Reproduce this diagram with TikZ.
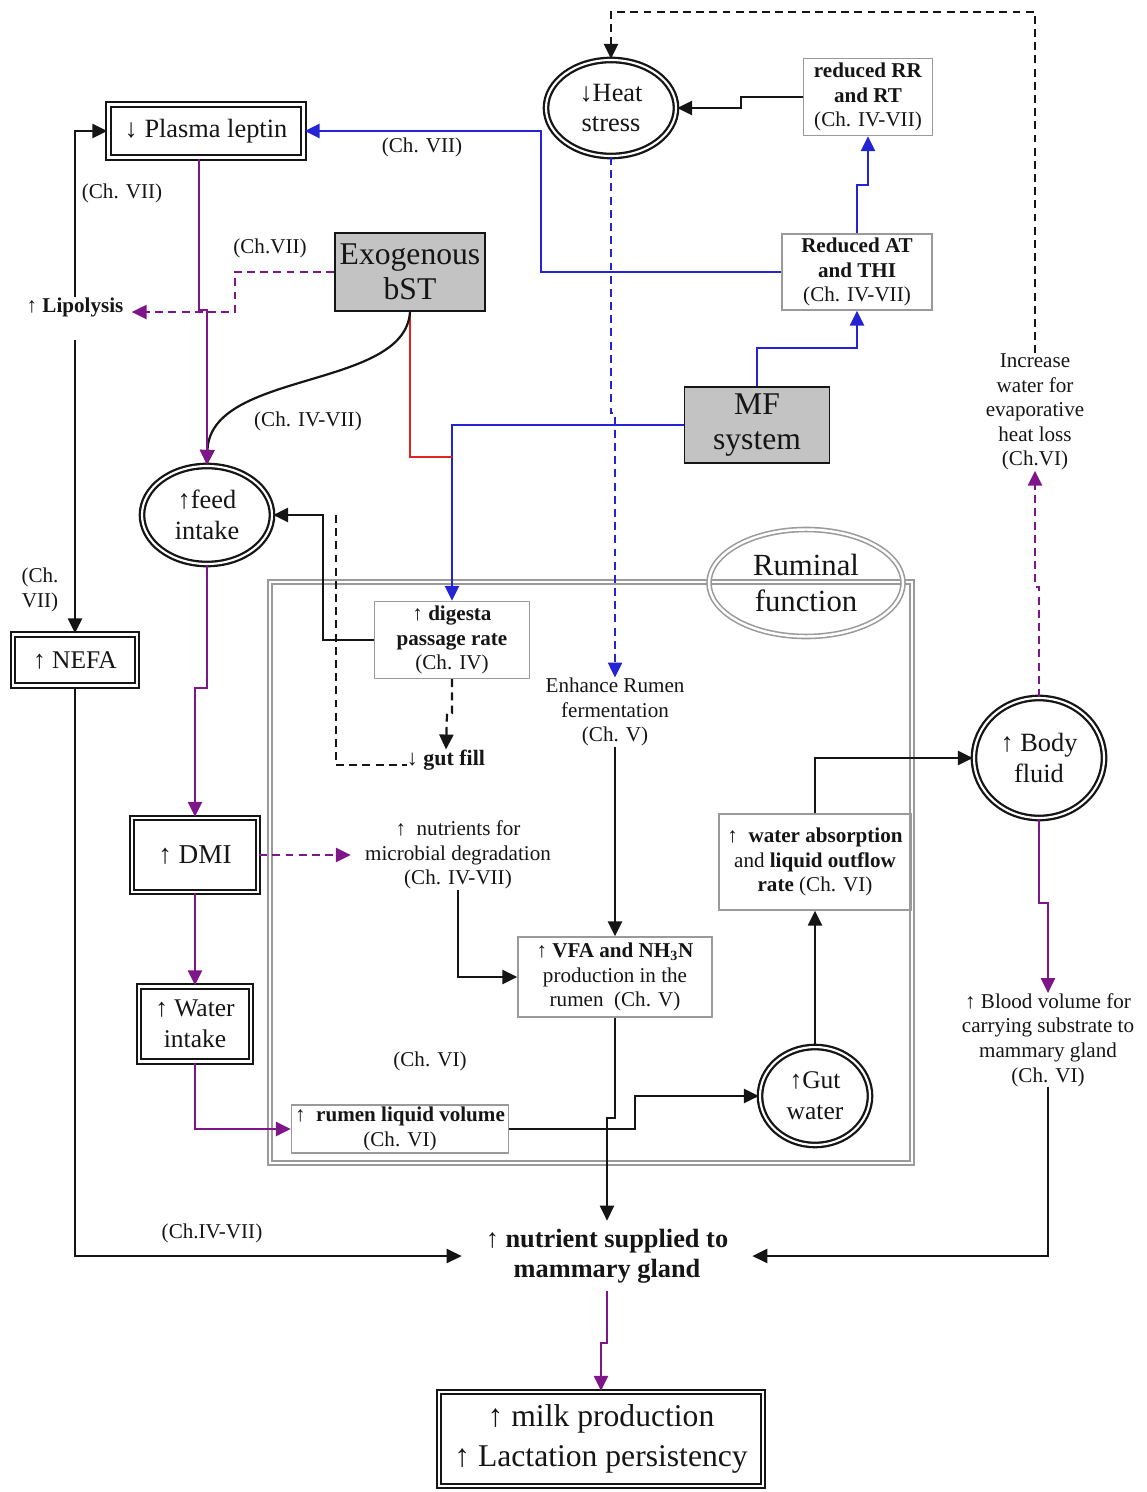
\documentclass[tikz,border=0pt]{standalone}
\usepackage{fontspec}
\setmainfont{Liberation Serif}
\usetikzlibrary{arrows.meta,shapes.geometric}
\definecolor{ink}{HTML}{151515}
\definecolor{flowblue}{HTML}{2424D4}
\definecolor{flowpurple}{HTML}{7E1689}
\definecolor{flowred}{HTML}{E0251F}
\definecolor{shade}{HTML}{C3C3C3}
\definecolor{frame}{HTML}{9A9A9A}

\begin{document}
\begin{tikzpicture}[x=0.2mm,y=-0.2mm,
          every node/.style={align=center,inner sep=0pt,text=ink},
          txt/.style={font=\fontsize{12}{14}\selectfont},
          big/.style={font=\fontsize{15}{17.5}\selectfont},
          heavy/.style={rectangle,draw=ink,line width=1.3pt,double,double distance=1.2pt,big},
          ring/.style={ellipse,draw=ink,line width=1.3pt,double,double distance=1.2pt,big},
          chbox/.style={rectangle,draw=frame,line width=.8pt,txt},
          grey/.style={rectangle,draw=ink,fill=shade,line width=1.1pt,font=\fontsize{18}{20}\selectfont},
          arr/.style={line width=1.25pt,ink,-{Triangle[length=8.5pt,width=8pt]}},
          dashline/.style={dash pattern=on 4.5pt off 3pt}]
        \useasboundingbox (0,0) rectangle (1146,1492);

        \node[draw=frame,line width=.9pt,double,double distance=1.4pt,
          minimum width=12.84cm,minimum height=11.62cm] (rumen) at (591,872.5) {};
        \node[ellipse,draw=frame,line width=.9pt,double,double distance=1.4pt,
          minimum width=3.88cm,minimum height=2.14cm,font=\fontsize{17.5}{20.5}\selectfont]
          (rumfn) at (806,583) {Ruminal\\function};

        \node[heavy,minimum width=3.9cm,minimum height=1.06cm] (leptin) at (206,131) {↓ Plasma leptin};
        \node[ring,minimum width=2.6cm,minimum height=1.92cm] (heat) at (611,108) {↓Heat\\stress};
        \node[chbox,minimum width=2.58cm,minimum height=1.54cm] (rrrt) at (868,97)
          {\textbf{reduced RR}\\\textbf{and RT}\\(Ch. IV-VII)};
        \node[chbox,minimum width=3cm,minimum height=1.52cm] (at) at (857,272)
          {\textbf{Reduced AT}\\\textbf{and THI}\\(Ch. IV-VII)};
        \node[grey,minimum width=3cm,minimum height=1.56cm] (bst) at (410,272) {Exogenous\\bST};
        \node[txt] (lipo) at (75,307) {↑ \textbf{Lipolysis}};
        \node[grey,minimum width=2.9cm,minimum height=1.52cm] (mf) at (757,425) {MF\\system};
        \node[txt] (evap) at (1035,412) {Increase\\water for\\evaporative\\heat loss\\(Ch.VI)};
        \node[ring,minimum width=2.6cm,minimum height=1.96cm] (feed) at (207,515) {↑feed\\intake};
        \node[heavy,minimum width=2.48cm,minimum height=1.02cm,font=\fontsize{14.5}{17}\selectfont]
          (nefa) at (75,660) {↑ NEFA};
        \node[chbox,minimum width=3.1cm,minimum height=1.54cm] (digesta) at (452,640)
          {\textbf{↑ digesta}\\\textbf{passage rate}\\(Ch. IV)};
        \node[txt] (enhance) at (615,712) {Enhance Rumen\\fermentation\\(Ch. V)};
        \node[font=\fontsize{12.5}{14}\selectfont] (gutfill) at (446,760) {↓ \textbf{gut fill}};
        \node[ring,minimum width=2.6cm,minimum height=2.4cm] (body) at (1039,758) {↑ Body\\fluid};
        \node[heavy,minimum width=2.52cm,minimum height=1.48cm,font=\fontsize{15.5}{18}\selectfont]
          (dmi) at (195,855) {↑ DMI};
        \node[txt] (microb) at (458,855) {↑\ \ nutrients for\\microbial degradation\\(Ch. IV-VII)};
        \node[chbox,minimum width=3.84cm,minimum height=1.92cm] (absorb) at (815,862)
          {\textbf{↑\ \ water absorption}\\and \textbf{liquid outflow}\\\textbf{rate} (Ch. VI)};
        \node[chbox,minimum width=3.88cm,minimum height=1.6cm] (vfa) at (615,977)
          {\textbf{↑ VFA and NH\textsubscript{3}N}\\production in the\\rumen\ \ (Ch. V)};
        \node[heavy,minimum width=2.24cm,minimum height=1.5cm,font=\fontsize{14.5}{17.5}\selectfont]
          (water) at (195,1024) {↑ Water\\intake};
        \node[txt] (blood) at (1048,1040) {↑ Blood volume for\\carrying substrate to\\mammary gland\\(Ch. VI)};
        \node[chbox,minimum width=4.34cm,minimum height=.96cm] (rumliq) at (400,1129)
          {↑\ \ \textbf{rumen liquid volume}\\(Ch. VI)};
        \node[ring,minimum width=2.2cm,minimum height=1.96cm,font=\fontsize{14.5}{17.5}\selectfont]
          (gut) at (815,1096) {↑Gut\\water};
        \node[minimum width=5.8cm,minimum height=1.4cm,font={\fontsize{15}{17}\selectfont\bfseries}]
          (nutri) at (607,1256) {\textmd{↑} nutrient supplied to\\mammary gland};
        \node[heavy,minimum width=6.48cm,minimum height=1.88cm,font=\fontsize{18}{22.5}\selectfont]
          (milk) at (601,1439) {↑ milk production\\↑ Lactation persistency};

        \node[txt] (chleptin) at (422,147) {(Ch. VII)};
        \node[txt] (chlipo) at (122,193) {(Ch. VII)};
        \node[txt] (chbst) at (270,248) {(Ch.VII)};
        \node[txt] (chcurve) at (308,421) {(Ch. IV-VII)};
        \node[txt] (chnefa) at (40,590) {(Ch.\\VII)};
        \node[txt] (chvi) at (430,1061) {(Ch. VI)};
        \node[txt] (chmam) at (212,1233) {(Ch.IV-VII)};
        \coordinate (gutjoin) at (336,515);

        \draw[arr,dashline] (evap.north) |- (611,12) -- (heat.north);
        \draw[arr] (rrrt.west) -- (741,97) |- (heat.east);
        \draw[arr,flowblue] (at.north) -- (857,185) -| (rrrt.south);
        \draw[arr,flowblue] (mf.north) |- (857,348) -- (at.south);
        \draw[arr,flowblue] (at.west) -- (541,272) |- (leptin.east);
        \draw[arr,flowblue] (mf.west) -| (digesta.north);
        \draw[line width=1.25pt,flowred] (bst.south) |- (452,457);
        \draw[arr] (bst.south) .. controls (405,390) and (210,370) .. (feed.north);
        \draw[arr,flowpurple,dashline,shorten >=1.6mm] (bst.west) -- (235,272) |- (lipo.base east);
        \draw[arr,flowpurple] ([xshift=-1.4mm]leptin.south) |- (207,310) -- (feed.north);
        \draw[arr] (lipo.north) |- (leptin.west);
        \draw[arr,shorten <=4.6mm] (lipo.south) -- (nefa.north);
        \draw[arr] (nefa.south) |- (nutri.west);
        \draw[arr,flowpurple] (feed.south) -- (207,688) -- (195,688) -- (dmi.north);
        \draw[arr] (digesta.west) -- (323,640) |- (feed.east);
        \draw[line width=1.25pt,ink,dashline] (gutjoin) |- (gutfill.base west);
        \draw[arr,dashline] (digesta.south) -- (452,713) -- (447,713) -- (gutfill.north);
        \draw[arr,flowblue,dashline] (heat.south) -- (611,413) -- (615,413) -- (enhance.north);
        \draw[arr] (enhance.south) -- (vfa.north);
        \draw[arr,flowpurple,dashline,shorten >=2.8mm] (dmi.east) -- (microb.west);
        \draw[arr] (microb.south) |- (vfa.west);
        \draw[arr] (vfa.south) -- (615,1118) -- (607,1118) -- (nutri.north);
        \draw[arr,flowpurple] (dmi.south) -- (water.north);
        \draw[arr,flowpurple] (water.south) |- (rumliq.west);
        \draw[arr] (rumliq.east) -- (635,1129) |- (gut.west);
        \draw[arr] (gut.north) -- (absorb.south);
        \draw[arr] (absorb.north) |- (body.west);
        \draw[arr,flowpurple,dashline] (body.north) -- (1039,587) -- (1035,587) -- (evap.south);
        \draw[arr,flowpurple] (body.south) -- (1039,903) -- (1048,903) -- (blood.north);
        \draw[arr] (blood.south) |- (nutri.east);
        \draw[arr,flowpurple] (nutri.south) -- (607,1343) -- (601,1343) -- (milk.north);
      \end{tikzpicture}
\end{document}
